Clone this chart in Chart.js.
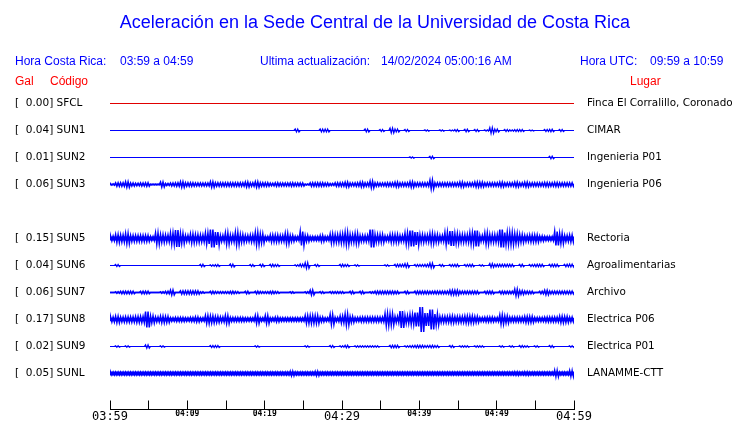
<!DOCTYPE html>
<html><head><meta charset="utf-8">
<script src="https://cdn.jsdelivr.net/npm/chart.js@4/dist/chart.umd.min.js"></script>
<style>
html,body{margin:0;padding:0;background:#fff;}
#wrap{position:relative;width:740px;height:423px;overflow:hidden;background:#fff;}
canvas{position:absolute;left:0;top:0;}
.t{position:absolute;white-space:pre;font-family:"Liberation Sans",Arial,sans-serif;line-height:1;font-size:12px;}
.blue{color:#0000ff}
.red{color:#ff0000}
</style></head><body>
<div id="wrap">
<canvas id="c" width="740" height="423"></canvas>
<div class="t blue" style="left:0;width:750px;text-align:center;top:13px;font-size:18px">Aceleración en la Sede Central de la Universidad de Costa Rica</div>
<div class="t blue" style="left:15px;top:55px">Hora Costa Rica:</div>
<div class="t blue" style="left:120px;top:55px">03:59 a 04:59</div>
<div class="t blue" style="left:260px;top:55px">Ultima actualización:</div>
<div class="t blue" style="left:381px;top:55px">14/02/2024 05:00:16 AM</div>
<div class="t blue" style="left:580px;top:55px">Hora UTC:</div>
<div class="t blue" style="left:650px;top:55px">09:59 a 10:59</div>
<div class="t red" style="left:15px;top:75px">Gal</div>
<div class="t red" style="left:50px;top:75px">Código</div>
<div class="t red" style="left:630px;top:75px">Lugar</div>
</div>
<script>
// ---------------- data ----------------
const codes  = ['SFCL','SUN1','SUN2','SUN3','SUN5','SUN6','SUN7','SUN8','SUN9','SUNL'];
const gal    = [0.00, 0.04, 0.01, 0.06, 0.15, 0.04, 0.06, 0.17, 0.02, 0.05];
const places = ['Finca El Corralillo, Coronado','CIMAR','Ingenieria P01','Ingenieria P06','Rectoria',
                'Agroalimentarias','Archivo','Electrica P06','Electrica P01','LANAMME-CTT'];
const timeLabels = ['03:59','04:09','04:19','04:29','04:39','04:49','04:59'];

// envelope half-amplitude of each trace, one value per 0.645 min window (03:59 -> 04:59)
const ampSFCL = [0,0,0,0,0,0,0,0,0,0, 0,0,0,0,0,0,0,0,0,0, 0,0,0,0,0,0,0,0,0,0, 0,0,0,0,0,0,0,0,0,0,
  0,0,0,0,0,0,0,0,0,0, 0,0,0,0,0,0,0,0,0,0, 0,0,0,0,0,0,0,0,0,0, 0,0,0,0,0,0,0,0,0,0, 0,0,0,0,0,0,0,0,0,0, 0,0,0];
const ampSUN1 = [0,0,0,0,0,0,0,0,0,0, 0,0,0,0,0,0,0,0,0,0, 0,0,0,0,0,0,0,0,0,0, 0,0,0,0,0,0,0,1.5,0,0,
  0,0,1.5,1.5,0,0,0,0,0,0, 0,1.5,0,0,1,0,2.5,1.5,0,1, 0,0,0,0.7,0,0,0.7,0,0.5,1, 0,1.3,0,1,0,0.7,3,1.5,0,1,
  0.7,1,1,0,0.5,0,0,1,1.3,0, 1,0,0];
const ampSUN2 = [0,0,0,0,0,0,0,0,0,0, 0,0,0,0,0,0,0,0,0,0, 0,0,0,0,0,0,0,0,0,0, 0,0,0,0,0,0,0,0,0,0,
  0,0,0,0,0,0,0,0,0,0, 0,0,0,0,0,0,0,0,0,0, 0.7,0,0,0,1.3,0,0,0,0,0, 0,0,0,0,0,0,0,0,0,0, 0,0,0,0,0,0,0,0,1.3,0, 0,0,0];
const ampSUN3 = [0.7,1.7,1.7,2.7,1.5,1.3,1.5,1.7,0.3,0.3, 2.5,1,1.5,1.7,2.7,1.7,1.7,1.5,1.5,1.5,
  2.7,1.7,1.7,1.7,1.7,1.7,1.7,2.5,1.7,2.7, 1.7,1.7,1.3,1.7,1.5,1.5,1.7,1.5,1.5,0.5,
  1.7,1.7,1.7,1.5,1,1.7,1.7,2.3,1.5,1.7, 2.3,1.7,3.3,1.7,1.5,1.7,1.7,2.3,1.7,1.7,
  2.7,1.7,1.7,1.7,4.3,1.7,1.7,1.7,1.7,1.7, 2.5,1.7,1.7,2.5,2.3,1.7,1.7,1.7,2.3,1.7,
  1.7,2.3,1.7,2.3,1.7,1.7,1.7,2,1.7,2, 1.7,1.7,1.7];
const ampSUN5 = [2.3,4,3.5,5,3,3,3,3,2,5.5, 4,3.5,5.5,8.5,5,3,4.5,4,3.5,5.5,
  9,6.5,3,5.5,3.5,6,4,3,3.5,6, 4.5,2,3.5,3.5,3,5,3,2,7,3,
  2,2,3,2,4.5,4,4.5,6,4,5, 3,3,9,4,4,2.5,4,4,3,5.5,
  8,6.5,4,3.5,5,4,3,6,7.5,5, 4,4,5.5,8,3,5.5,4,4,9,6,
  6,5,4,3,3.5,3.5,2.5,2,2,7, 5,3,3.5];
const ampSUN6 = [0,1,0,0,0,0,0,0,0,0, 0,0,0,0,0,0,0,0,1.3,0, 0.8,1,0,0,1.5,0,0,0,1,0,
  1.3,0,1.3,1,0,0,0,0.8,1.5,3, 0,1,0,0,0,0,1.3,1,0,0.8, 0,0,0,0,0,0.8,0,1.3,1.3,2,
  0,1,1,1.3,2.5,0,1,0,1,1.3, 0,1,1.3,0,0.8,0,2,1.3,1.3,1.3, 1.3,0,1.3,0,1,1.3,1.3,0,1.3,1.3, 0,1.3,1.5];
const ampSUN7 = [0,0.8,1.3,1.3,1.3,0,1.3,1.3,0,0, 0.8,1.3,2.5,0,1.7,1.7,1.7,1.7,0.8,0,
  1.3,1,1,1,1.3,1,0,1.3,0,1.3, 1,1,1.3,1,0,0,0.8,0,0,0.8, 2.5,0,1,0,1,1,1,0,1.3,0,
  1.3,0,0.8,1.5,1.5,1.5,1.5,1.3,0,1.3, 0,1.5,1.5,1.5,1.3,1.5,1.5,1.5,2.3,2.3,
  1.5,1.5,1.5,1.5,0,1.3,1.5,0,1.5,1.3, 1.3,3.5,2,1.5,1.3,0,1.3,2.3,1.5,1.5, 1.5,1.5,1.5];
const ampSUN8 = [2.5,3.3,2.5,2.7,2.7,3,3,8,3.5,2.5, 3.3,3,1.7,2,2,1.7,2,2.5,1.7,4,
  3.5,3,2.5,4,2,2,2,1.7,1.7,4, 1.7,4,1.7,2.3,1.7,1.7,1.7,1.7,1.7,4,
  4,4,2.3,1.7,5,2,3.5,5.5,3,2, 2.3,2.3,2.3,2.3,2.3,6,5.5,3,8.5,4,
  5,7,12.5,6.5,10,5.5,3,3,3.5,3, 3,3.5,3.5,3,2,2.3,2.3,2,4.5,3.5,
  2.3,2.3,2.3,3,3,2,2,2.3,2.3,2.3, 3.3,3,2.3];
const ampSUN9 = [0,0.8,0,0.8,0,0,0,1.7,0,0, 0.8,0,0,0,0,0,0,0,0,0, 1,1,0,0,0,0,0,0,0,0.8,
  0,0,0,0,0,0,0,0,0,0.8, 0,0,0,0,1,0,0.8,1.3,0,0.8, 0.8,0.8,0.8,0.8,0,0,1.3,1.3,0,0.8,
  1,1.3,1.3,1,1.3,1,0,0,1,0, 0.8,0.8,0,0.8,0.8,0,0,0,0.8,0, 0.8,0,1,0.8,0,0.8,0,0,1,0, 0,0,0.8];
const ampSUNL = [1.7,1.7,1.7,1.7,1.7,1.7,1.7,1.7,1.7,1.7, 1.7,1.7,1.7,1.7,1.7,1.7,1.7,1.7,1.7,1.7,
  1.7,1.7,1.7,1.7,1.7,1.7,1.7,1.7,1.7,1.7, 1.7,1.7,1.7,1.7,1.7,1.7,2.7,1.7,1.7,1.7,
  1.7,2.5,1.7,1.7,1.7,1.7,1.7,1.7,1.7,1.7, 1.7,1.7,1.7,1.7,1.7,1.7,1.7,1.7,1.7,1.7,
  1.7,1.7,1.7,1.7,1.7,1.7,1.7,1.7,1.7,1.7, 1.7,1.7,1.7,1.7,1.7,1.7,1.7,1.7,1.7,1.7,
  1.7,2,1.7,2,1.7,1.7,1.7,1.7,1.7,3.8, 1.7,1.7,3.5];

// ---------------- presentation ----------------
const traces = [ampSFCL,ampSUN1,ampSUN2,ampSUN3,ampSUN5,ampSUN6,ampSUN7,ampSUN8,ampSUN9,ampSUNL];
const slots  = codes.map((c,i)=> i < 4 ? i : i + 1);      // row 4 is left empty
const colors = codes.map((c,i)=> i === 0 ? '#e00000' : '#0000ff');
const baseW  = [1,1,1,1.6,4,1,1.4,3.6,1,4];
const waveW  = [1,1.2,1.2,1.5,1.5,1.2,1.4,1.5,1.2,1.2];
const GAIN = 1/27;           // trace units -> row units
const SPAN = 60;             // minutes shown
const SUB = [0.125,0.375,0.625,0.875];   // drawing sub-steps inside a window

const datasets = [];
traces.forEach((amp,i)=>{
  const row = slots[i];
  datasets.push({data:[{x:0,y:row},{x:SPAN,y:row}], borderColor:colors[i], borderWidth:baseW[i],
                 pointRadius:0, yAxisID:'y', tension:0});
  const w = SPAN/amp.length, pts=[{x:0,y:row}];
  amp.forEach((a,k)=>{
    SUB.forEach((f,j)=> pts.push({x:(k+f)*w, y: row + (j%2 ? a : -a)*GAIN}));
  });
  pts.push({x:SPAN,y:row});
  datasets.push({data:pts, borderColor:colors[i], borderWidth:waveW[i], pointRadius:0, yAxisID:'y', tension:0});
});

const fmtGal = v => { const s = v.toFixed(2); return '[' + ' '.repeat(Math.max(0,6-s.length)) + s + '] '; };
const yMin = -1, yMax = 34/3;
const yCommon = {
  type:'linear', reverse:true, min:yMin, max:yMax,
  border:{display:false},
  afterBuildTicks: s => { s.ticks = slots.map(v=>({value:v})); }
};

new Chart(document.getElementById('c'), {
  type:'line',
  data:{datasets},
  options:{
    responsive:false, animation:false, events:[],
    layout:{padding:{left:15,right:0,top:76.5,bottom:0}},
    plugins:{legend:{display:false}, tooltip:{enabled:false}, title:{display:false}},
    scales:{
      x:{type:'linear', position:'bottom', min:0, max:SPAN,
        afterFit: s => { s.height = 13.5; },
        border:{display:true, color:'#000', width:1},
        grid:{display:true, drawOnChartArea:false, drawTicks:true, tickLength:-9, color:'#000', lineWidth:1},
        ticks:{stepSize:5, autoSkip:false, maxRotation:0, padding:9, color:'#000',
          callback: v => (v % 10 === 0) ? timeLabels[v/10] : '',
          font: ctx => (ctx.tick && ctx.tick.value % 30 === 0)
            ? {family:'"DejaVu Sans Mono"', size:12, weight:'normal'}
            : {family:'"DejaVu Sans Mono"', size:8, weight:'bold'}
        }
      },
      y:Object.assign({}, yCommon, {position:'left',
        grid:{display:false, drawTicks:false},
        afterFit: s => { s.width = 95; },
        ticks:{autoSkip:false, padding:0, crossAlign:'far', color:'#000',
          font:{family:'"DejaVu Sans"', size:10.5},
          callback:(v,i)=> fmtGal(gal[i]) + codes[i]}
      }),
      y2:Object.assign({}, yCommon, {position:'right',
        grid:{display:true, drawOnChartArea:false, drawTicks:true, tickLength:13, color:'rgba(0,0,0,0)'},
        afterFit: s => { s.width = 166; },
        ticks:{autoSkip:false, padding:0, crossAlign:'near', color:'#000',
          font:{family:'"DejaVu Sans"', size:10.4},
          callback:(v,i)=> places[i]}
      })
    }
  }
});
</script>
</body></html>
